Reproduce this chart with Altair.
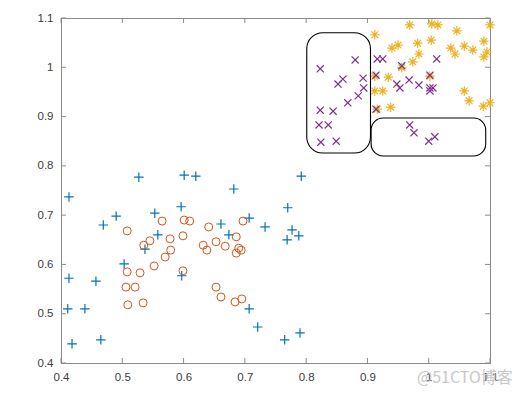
import altair as alt
import pandas as pd

# ---- data ----
blue_x = [0.527, 0.601, 0.620, 0.682, 0.413, 0.596, 0.553, 0.490, 0.469, 0.661, 0.558, 0.674,
          0.537, 0.503, 0.413, 0.457, 0.597, 0.411, 0.439, 0.418, 0.465, 0.792, 0.770, 0.707,
          0.733, 0.777, 0.788, 0.769, 0.707, 0.721, 0.790, 0.765]
blue_y = [0.777, 0.781, 0.779, 0.753, 0.737, 0.717, 0.704, 0.698, 0.680, 0.682, 0.660, 0.660,
          0.631, 0.601, 0.572, 0.566, 0.577, 0.510, 0.510, 0.439, 0.447, 0.779, 0.715, 0.694,
          0.676, 0.670, 0.658, 0.650, 0.510, 0.473, 0.461, 0.447]

orange_x = [0.508, 0.565, 0.601, 0.610, 0.641, 0.545, 0.535, 0.578, 0.599, 0.653, 0.632, 0.638,
            0.668, 0.686, 0.579, 0.570, 0.552, 0.508, 0.529, 0.599, 0.506, 0.521, 0.509, 0.534,
            0.653, 0.661, 0.684, 0.697, 0.690, 0.694, 0.686, 0.695]
orange_y = [0.668, 0.688, 0.690, 0.688, 0.676, 0.648, 0.639, 0.652, 0.658, 0.646, 0.639, 0.629,
            0.637, 0.656, 0.629, 0.615, 0.597, 0.585, 0.583, 0.587, 0.554, 0.554, 0.518, 0.522,
            0.554, 0.534, 0.524, 0.688, 0.633, 0.629, 0.623, 0.530]

yellow_x = [0.912, 0.940, 0.950, 0.969, 1.005, 1.015, 0.982, 1.004, 1.046, 1.100, 0.984, 0.974,
            0.956, 1.036, 1.043, 1.058, 1.072, 1.090, 1.095, 1.090, 0.912, 0.934, 0.912, 0.925,
            1.002, 1.058, 1.066, 1.089, 1.100, 0.916, 0.938]
yellow_y = [1.066, 1.039, 1.045, 1.086, 1.088, 1.086, 1.049, 1.055, 1.074, 1.086, 1.027, 1.011,
            0.999, 1.039, 1.027, 1.043, 1.035, 1.053, 1.031, 1.021, 0.982, 0.980, 0.952, 0.952,
            0.982, 0.952, 0.932, 0.921, 0.928, 0.915, 0.919]

purple_x = [0.880, 0.823, 0.916, 0.925, 1.013, 0.956, 0.914, 1.002, 0.852, 0.860, 0.893, 0.894,
            0.885, 0.868, 0.948, 0.953, 0.968, 0.984, 1.002, 1.007, 1.002, 0.823, 0.844, 0.914,
            0.821, 0.836, 0.824, 0.849, 0.969, 0.976, 1.000, 1.010]
purple_y = [1.015, 0.997, 1.017, 1.017, 1.017, 1.003, 0.984, 0.984, 0.966, 0.976, 0.978, 0.958,
            0.942, 0.928, 0.966, 0.958, 0.974, 0.964, 0.958, 0.958, 0.952, 0.913, 0.911, 0.915,
            0.883, 0.883, 0.848, 0.850, 0.883, 0.867, 0.850, 0.859]

# rounded boxes (x, x2, y, y2)
box_x1 = [0.801, 0.906]
box_x2 = [0.905, 1.093]
box_y1 = [1.070, 0.897]
box_y2 = [0.826, 0.820]

tick_vals = [0.4, 0.5, 0.6, 0.7, 0.8, 0.9, 1.0, 1.1]

# ---- layout ----
W, H = 429, 345
AX = "#8a8a8a"
LBL = "#404040"
TL = 5

xs = alt.Scale(domain=[0.4, 1.1], nice=False, zero=False)
ys = alt.Scale(domain=[0.4, 1.1], nice=False, zero=False)
xax = alt.Axis(values=tick_vals, format="~g", tickSize=0, grid=False, labelFlush=False,
               labelOverlap=False, domainColor=AX, labelColor=LBL, labelPadding=8, title=None)
yax = alt.Axis(values=tick_vals, format="~g", tickSize=0, grid=False, labelFlush=False,
               labelOverlap=False, domainColor=AX, labelColor=LBL, labelPadding=8, title=None)

PLUS = "M-1,0L1,0M0,-1L0,1"
XMARK = "M-0.75,-0.75L0.75,0.75M-0.75,0.75L0.75,-0.75"
STAR = "M-1,0L1,0M0,-1L0,1M-0.7,-0.7L0.7,0.7M-0.7,0.7L0.7,-0.7"


def X(f):
    return alt.X(f, scale=xs, axis=xax)


def Y(f):
    return alt.Y(f, scale=ys, axis=yax)


def pts(xv, yv, shape, color, size, sw=1.2):
    df = pd.DataFrame({"x": xv, "y": yv})
    return alt.Chart(df).mark_point(shape=shape, filled=False, size=size,
                                    strokeWidth=sw, color=color, opacity=1).encode(
        x=X("x:Q"), y=Y("y:Q"))


blue = pts(blue_x, blue_y, PLUS, "#0072BD", 90)
orange = pts(orange_x, orange_y, "circle", "#D95319", 64, sw=1.0)
yellow = pts(yellow_x, yellow_y, STAR, "#EDB120", 90)
purple = pts(purple_x, purple_y, XMARK, "#7E2F8E", 90)

box_df = pd.DataFrame({"x": box_x1, "x2": box_x2, "y": box_y1, "y2": box_y2})
boxes_left = alt.Chart(box_df.iloc[[0]]).mark_rect(
    fill=None, stroke="black", strokeWidth=1.1, cornerRadius=16).encode(
    x=X("x:Q"), x2="x2:Q", y=Y("y:Q"), y2="y2:Q")
boxes_right = alt.Chart(box_df.iloc[[1]]).mark_rect(
    fill=None, stroke="black", strokeWidth=1.1, cornerRadius=12).encode(
    x=X("x:Q"), x2="x2:Q", y=Y("y:Q"), y2="y2:Q")

tdf = pd.DataFrame({"x": tick_vals, "y": tick_vals})
tick_base = alt.Chart(tdf).mark_rule(color=AX, strokeWidth=1)
t_bottom = tick_base.encode(x=X("x:Q"), y=alt.value(H), y2=alt.value(H - TL))
t_top = tick_base.encode(x=X("x:Q"), y=alt.value(0), y2=alt.value(TL))
t_left = tick_base.encode(y=Y("y:Q"), x=alt.value(0), x2=alt.value(TL))
t_right = tick_base.encode(y=Y("y:Q"), x=alt.value(W), x2=alt.value(W - TL))

wm = alt.Chart(pd.DataFrame({"t": ["@51CTO博客"]})).mark_text(
    align="left", baseline="middle", fontSize=16, color="#c8c8c8",
    font="Noto Sans CJK SC").encode(text="t:N", x=alt.value(356), y=alt.value(360))

chart = alt.layer(
    blue, orange, yellow, purple, boxes_left, boxes_right,
    t_bottom, t_top, t_left, t_right, wm
).properties(
    width=W, height=H,
    autosize=alt.AutoSizeParams(type="none"),
    padding={"left": 53, "top": 10, "right": 30, "bottom": 25},
).configure_view(
    stroke=AX, strokeWidth=1
).configure_axis(
    labelFont="Liberation Sans", labelFontSize=11.5, domainWidth=1
)

chart.save("out.html", embed_options={"renderer": "svg", "actions": False})
